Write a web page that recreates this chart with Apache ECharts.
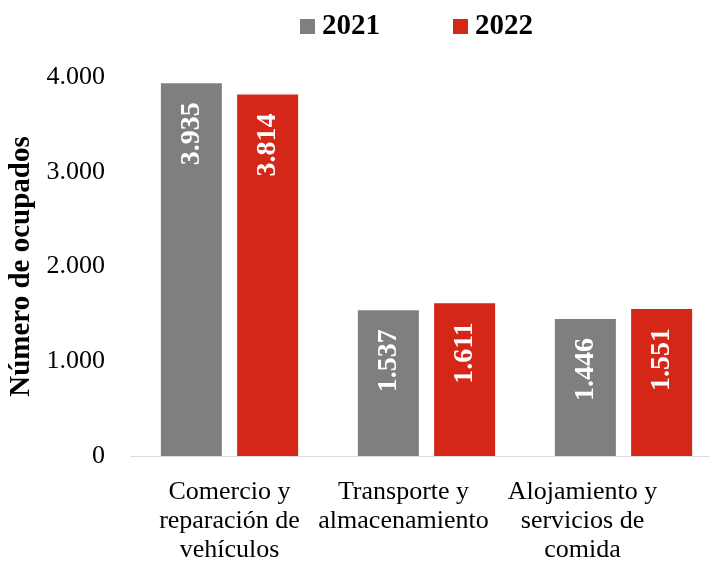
<!DOCTYPE html>
<html>
<head>
<meta charset="utf-8">
<script src="https://cdn.jsdelivr.net/npm/echarts@6/dist/echarts.min.js"></script>
<style>html,body{margin:0;padding:0;background:#fff}#c{width:709px;height:561px}</style>
</head>
<body>
<div id="c"></div>
<script>
const categories = ['Comercio y\nreparación de\nvehículos', 'Transporte y\nalmacenamiento', 'Alojamiento y\nservicios de\ncomida'];
const seriesNames = ['2021', '2022'];
const values2021 = [3935, 1537, 1446];
const values2022 = [3814, 1611, 1551];
const yTicks = [0, 1000, 2000, 3000, 4000];

const FONT = '"Liberation Serif", "Times New Roman", serif';
const fmt = v => v.toLocaleString('de-DE');
const shifts = [0, 46, 82];

const chart = echarts.init(document.getElementById('c'));
chart.setOption({
  animation: false,
  textStyle: { fontFamily: FONT },
  legend: {
    left: 300, top: 12, padding: 0,
    itemWidth: 15, itemHeight: 15, itemGap: 73,
    icon: 'rect',
    data: seriesNames,
    textStyle: { fontFamily: FONT, fontSize: 29, fontWeight: 'bold', color: '#000', padding: [0, 0, 0, 2], lineHeight: 28 }
  },
  grid: { left: 131, top: 77, width: 591, bottom: 105, containLabel: false, outerBoundsMode: 'none' },
  xAxis: {
    type: 'category',
    data: categories,
    axisLine: { lineStyle: { color: '#d9d9d9', width: 1 } },
    axisTick: { show: false },
    axisLabel: {
      interval: 0,
      margin: 22,
      hideOverlap: false,
      formatter: (v, i) => v.split('\n').map(s => '{c' + i + '|' + s + '}').join('\n'),
      rich: {
        c0: { fontFamily: FONT, fontSize: 26, lineHeight: 29, color: '#000', padding: [0, shifts[0], 0, 0] },
        c1: { fontFamily: FONT, fontSize: 26, lineHeight: 29, color: '#000', padding: [0, shifts[1], 0, 0] },
        c2: { fontFamily: FONT, fontSize: 26, lineHeight: 29, color: '#000', padding: [0, shifts[2], 0, 0] }
      }
    }
  },
  yAxis: {
    type: 'value',
    min: yTicks[0], max: yTicks[yTicks.length - 1], interval: 1000,
    name: 'Número de ocupados',
    nameLocation: 'middle',
    nameGap: 86,
    nameTextStyle: { fontFamily: FONT, fontSize: 29, fontWeight: 'bold', color: '#000' },
    axisLine: { show: false },
    axisTick: { show: false },
    splitLine: { show: false },
    axisLabel: { fontFamily: FONT, fontSize: 26, color: '#000', margin: 26, formatter: v => fmt(v) }
  },
  series: [
    {
      name: seriesNames[0], type: 'bar', data: values2021,
      barWidth: 61, barGap: '25%',
      itemStyle: { color: '#7f7f7f' },
      label: {
        show: true, position: 'insideTop', rotate: 90, distance: 19,
        align: 'right', verticalAlign: 'middle',
        fontFamily: FONT, fontSize: 28, fontWeight: 'bold', color: '#fff',
        formatter: p => fmt(p.value)
      }
    },
    {
      name: seriesNames[1], type: 'bar', data: values2022,
      barWidth: 61, barGap: '25%',
      itemStyle: { color: '#d52718' },
      label: {
        show: true, position: 'insideTop', rotate: 90, distance: 19,
        align: 'right', verticalAlign: 'middle',
        fontFamily: FONT, fontSize: 28, fontWeight: 'bold', color: '#fff',
        formatter: p => fmt(p.value)
      }
    }
  ]
});
</script>
</body>
</html>
